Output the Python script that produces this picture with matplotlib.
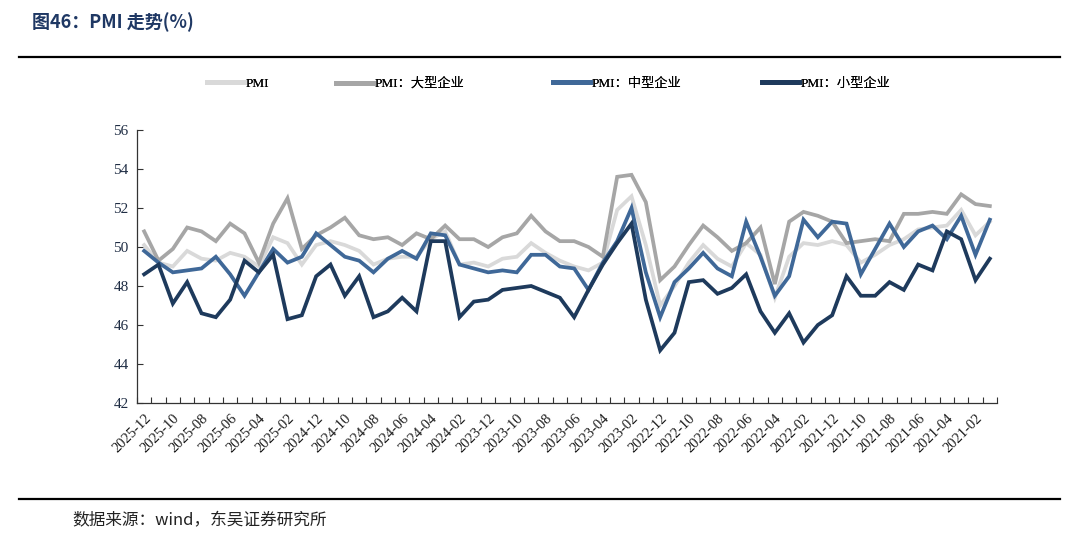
import numpy as np
import pandas as pd
import matplotlib
matplotlib.use("Agg")
import matplotlib.pyplot as plt
from matplotlib.lines import Line2D

plt.rcParams['font.family'] = ['Liberation Serif', 'Noto Sans CJK SC', 'DejaVu Sans']
plt.rcParams['axes.unicode_minus'] = False

# -----------------------------
# Data (newest month first, as in the chart)
# -----------------------------
months = [p.strftime("%Y-%m") for p in pd.period_range("2021-01", "2025-12", freq="M")][::-1]

pmi = [50.1, 49.2, 49.0, 49.8, 49.4, 49.3, 49.7, 49.5, 49.0, 50.5, 50.2, 49.1,
       50.1, 50.3, 50.1, 49.8, 49.1, 49.4, 49.5, 49.5, 50.4, 50.8, 49.1, 49.2,
       49.0, 49.4, 49.5, 50.2, 49.7, 49.3, 49.0, 48.8, 49.2, 51.9, 52.6, 50.1,
       47.0, 48.0, 49.2, 50.1, 49.4, 49.0, 50.2, 49.6, 47.4, 49.5, 50.2, 50.1,
       50.3, 50.1, 49.2, 49.6, 50.1, 50.4, 50.9, 51.0, 51.1, 51.9, 50.6, 51.3]

pmi_large = [50.8, 49.3, 49.9, 51.0, 50.8, 50.3, 51.2, 50.7, 49.2, 51.2, 52.5, 49.9,
             50.6, 51.0, 51.5, 50.6, 50.4, 50.5, 50.1, 50.7, 50.4, 51.1, 50.4, 50.4,
             50.0, 50.5, 50.7, 51.6, 50.8, 50.3, 50.3, 50.0, 49.5, 53.6, 53.7, 52.3,
             48.3, 49.0, 50.1, 51.1, 50.5, 49.8, 50.2, 51.0, 48.1, 51.3, 51.8, 51.6,
             51.3, 50.2, 50.3, 50.4, 50.3, 51.7, 51.7, 51.8, 51.7, 52.7, 52.2, 52.1]

pmi_medium = [49.8, 49.2, 48.7, 48.8, 48.9, 49.5, 48.6, 47.5, 48.7, 49.9, 49.2, 49.5,
              50.7, 50.1, 49.5, 49.3, 48.7, 49.4, 49.8, 49.4, 50.7, 50.6, 49.1, 48.9,
              48.7, 48.8, 48.7, 49.6, 49.6, 49.0, 48.9, 47.8, 49.2, 50.3, 52.0, 48.7,
              46.4, 48.2, 48.9, 49.7, 48.9, 48.5, 51.3, 49.5, 47.5, 48.5, 51.4, 50.5,
              51.3, 51.2, 48.6, 49.9, 51.2, 50.0, 50.8, 51.1, 50.4, 51.6, 49.6, 51.4]

pmi_small = [48.6, 49.1, 47.1, 48.2, 46.6, 46.4, 47.3, 49.3, 48.7, 49.6, 46.3, 46.5,
             48.5, 49.1, 47.5, 48.5, 46.4, 46.7, 47.4, 46.7, 50.3, 50.3, 46.4, 47.2,
             47.3, 47.8, 47.9, 48.0, 47.7, 47.4, 46.4, 47.8, 49.1, 50.2, 51.2, 47.3,
             44.7, 45.6, 48.2, 48.3, 47.6, 47.9, 48.6, 46.7, 45.6, 46.6, 45.1, 46.0,
             46.5, 48.5, 47.5, 47.5, 48.2, 47.8, 49.1, 48.8, 50.8, 50.4, 48.3, 49.4]

series_names = ["PMI", "PMI：大型企业", "PMI：中型企业", "PMI：小型企业"]
colors = ["#d9d9d9", "#a6a6a6", "#3f6898", "#1e3a5c"]

# -----------------------------
# Figure
# -----------------------------
fig = plt.figure(figsize=(10.8, 5.41), dpi=100)
ax = fig.add_axes([137 / 1080, 1 - 403 / 541, 860 / 1080, 273 / 541])

x = np.arange(len(months))
for vals, name, c in zip([pmi, pmi_large, pmi_medium, pmi_small], series_names, colors):
    ax.plot(x, vals, color=c, lw=2.7, label=name, solid_joinstyle="miter")

ax.set_xlim(-0.5, len(months) - 0.5)
ax.set_ylim(42, 56)
ax.set_yticks(range(42, 57, 2))

# labels every 2 months, tick marks at category boundaries
ax.set_xticks(x[::2])
ax.set_xticklabels(months[::2], rotation=45, ha="right", rotation_mode="anchor")
ax.tick_params(axis="x", length=0, pad=6, labelsize=10.5, labelcolor="#1a1a1a")
ax.set_xticks(np.arange(-0.5, len(months), 1), minor=True)
ax.tick_params(axis="x", which="minor", direction="in", length=4, width=0.8, color="#333333")
ax.tick_params(axis="y", direction="in", length=4, width=0.8, labelsize=11,
               labelcolor="#1f2d44", color="#333333", pad=6)

for s in ["top", "right"]:
    ax.spines[s].set_visible(False)
for s in ["left", "bottom"]:
    ax.spines[s].set_color("#333333")
    ax.spines[s].set_linewidth(0.9)

# legend: one entry per slot, like the original
legend_x = [207, 336, 553, 762]
for lx, name, c in zip(legend_x, series_names, colors):
    leg = fig.legend([Line2D([0], [0], color=c, lw=3.5)], [name], loc="center left",
                     bbox_to_anchor=(lx / 1080, 1 - 84 / 541), frameon=False,
                     fontsize=9.5, handlelength=2.8, handletextpad=0.15,
                     borderpad=0, borderaxespad=0)
    fig.add_artist(leg)

# title / separators / source
fig.text(32 / 1080, 1 - 22 / 541, "图46：PMI 走势(%)", fontsize=13, fontweight="bold",
         color="#1f3864", va="center", ha="left",
         family=["Noto Sans CJK SC", "DejaVu Sans"])
fig.add_artist(Line2D([19 / 1080, 1060 / 1080], [1 - 57 / 541, 1 - 57 / 541],
                      color="black", lw=1.6))
fig.add_artist(Line2D([19 / 1080, 1060 / 1080], [1 - 499 / 541, 1 - 499 / 541],
                      color="black", lw=1.6))
fig.text(72 / 1080, 1 - 521 / 541, "数据来源：wind，东吴证券研究所", fontsize=12,
         color="#222222", va="center", ha="left",
         family=["Noto Sans CJK SC", "DejaVu Sans"])

fig.savefig("out.png", dpi=100)
